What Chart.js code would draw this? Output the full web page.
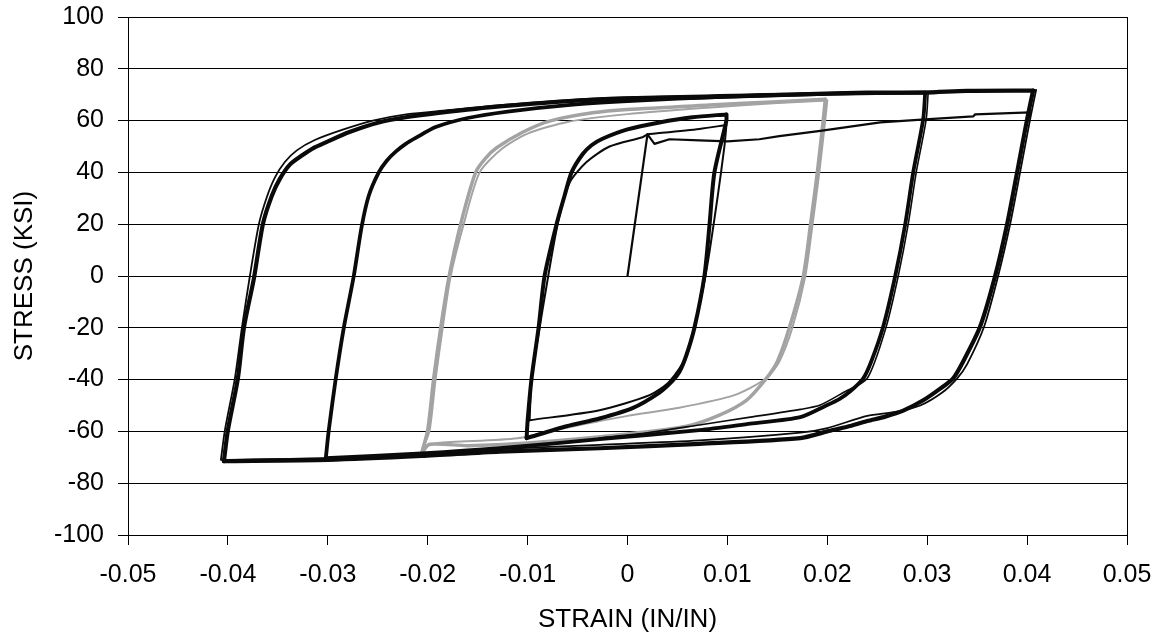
<!DOCTYPE html>
<html>
<head>
<meta charset="utf-8">
<script src="https://cdn.jsdelivr.net/npm/chart.js@4.4.1/dist/chart.umd.min.js"></script>
<style>
  html, body { margin: 0; padding: 0; background: #fff; }
  #wrap { width: 1162px; height: 638px; }
</style>
</head>
<body>
<div id="wrap"><canvas id="c" width="1162" height="638"></canvas></div>
<script>
// ---------- Data (strain in/in, stress ksi) ----------
const xTicks = [-0.05, -0.04, -0.03, -0.02, -0.01, 0, 0.01, 0.02, 0.03, 0.04, 0.05];
const xTickLabels = ['-0.05', '-0.04', '-0.03', '-0.02', '-0.01', '0', '0.01', '0.02', '0.03', '0.04', '0.05'];
const yTicks = [-100, -80, -60, -40, -20, 0, 20, 40, 60, 80, 100];
const yTickLabels = ['-100', '-80', '-60', '-40', '-20', '0', '20', '40', '60', '80', '100'];

// initial monotonic loading
const initStrain = [0, 0.0020, 0.0027, 0.0042, 0.0072, 0.0100, 0.0132, 0.0152, 0.0193, 0.0253, 0.0298, 0.0346, 0.0348, 0.0403, 0.0401];
const initStress = [0, 54.7, 51.0, 52.8, 52.4, 52.0, 52.8, 54.0, 56.0, 59.3, 60.5, 61.6, 62.4, 63.2, 60.0];

// +/-0.04 loop (main cycles)
const loop04Strain = [-0.0404, -0.0400, -0.0390, -0.0384, -0.0374, -0.0365, -0.0356, -0.0348, -0.0338, -0.0326, -0.0314, -0.0302, -0.0279, -0.0249, -0.0222, -0.0189, -0.0128, -0.0028, 0.0072, 0.0173, 0.0240, 0.0298, 0.0340, 0.0406,
  0.0400, 0.0390, 0.0380, 0.0368, 0.0353, 0.0336, 0.0326, 0.0313, 0.0296, 0.0276, 0.0258, 0.0240, 0.0220, 0.0200, 0.0173, 0.0072, -0.0028, -0.0128, -0.0206, -0.0300, -0.0404];
const loop04Stress = [-71.5, -59.5, -39.5, -20.0, -1.0, 20.0, 31.0, 37.5, 43.0, 46.5, 49.5, 51.6, 55.5, 59.3, 61.3, 63.0, 65.5, 68.2, 69.0, 70.1, 70.8, 70.8, 71.5, 71.6,
  60.5, 40.0, 20.0, 0.0, -19.5, -33.0, -39.5, -43.5, -48.0, -52.0, -54.3, -56.0, -58.2, -60.0, -62.6, -64.8, -66.5, -67.8, -69.5, -71.0, -71.5];

// +/-0.04 loop (outer / earlier cycle)
const loop04bStrain = [-0.0407, -0.0403, -0.0393, -0.0386, -0.0378, -0.0369, -0.0361, -0.0353, -0.0343, -0.0331, -0.0313, -0.0285, -0.0255, -0.0220, -0.0180, -0.0128, -0.0028, 0.0173, 0.0298, 0.0409,
  0.0403, 0.0393, 0.0383, 0.0371, 0.0357, 0.0340, 0.0330, 0.0315, 0.0293, 0.0268, 0.0240, 0.0200, 0.0173, 0.0072, -0.0028, -0.0128, -0.0206, -0.0300, -0.0406];
const loop04bStress = [-71.0, -59.5, -39.5, -20.0, 0.0, 20.0, 30.5, 38.0, 44.0, 48.5, 52.5, 56.5, 60.0, 62.5, 64.0, 66.0, 68.6, 70.5, 71.2, 71.8,
  60.5, 40.0, 20.0, 0.0, -19.5, -34.0, -39.5, -45.0, -50.0, -52.5, -54.0, -58.7, -60.5, -63.5, -65.2, -66.8, -68.5, -70.2, -71.0];

// +/-0.03 loop (main)
const loop03Strain = [-0.0302, -0.0299, -0.0292, -0.0284, -0.0274, -0.0266, -0.0259, -0.0249, -0.0241, -0.0232, -0.0222, -0.0212, -0.0192, -0.0160, -0.0120, -0.0060, 0.0000, 0.0100, 0.0200, 0.0298,
  0.0296, 0.0286, 0.0278, 0.0268, 0.0256, 0.0244, 0.0236, 0.0223, 0.0212, 0.0200, 0.0173, 0.0123, 0.0072, -0.0028, -0.0128, -0.0206, -0.0302];
const loop03Stress = [-70.3, -59.5, -39.5, -20.0, 0.0, 19.3, 31.0, 40.0, 44.5, 48.0, 51.0, 53.3, 57.5, 61.0, 63.5, 66.0, 67.5, 69.3, 70.3, 70.8,
  60.5, 40.0, 20.0, 0.0, -19.5, -33.0, -39.5, -44.5, -47.5, -49.8, -54.5, -57.0, -59.5, -63.0, -66.5, -68.5, -70.3];

// +/-0.03 loop (thin cycle, linked from the 0.01 loop)
const loop03bStrain = [0.0301, 0.0299, 0.0289, 0.0281, 0.0271, 0.0259, 0.0240, 0.0216, 0.0193, 0.0173, 0.0123, 0.0072, 0.0020, -0.0028];
const loop03bStress = [71.0, 60.5, 40.0, 20.0, 0.0, -19.5, -39.5, -45.0, -49.8, -51.5, -54.5, -57.5, -60.5, -62.5];

// +/-0.01 loop (main)
const loop01Strain = [-0.0101, -0.0100, -0.0096, -0.0089, -0.0083, -0.0071, -0.0063, -0.0056, -0.0045, -0.0036, -0.0025, 0.0000, 0.0032, 0.0065, 0.0099,
  0.0099, 0.0087, 0.0082, 0.0077, 0.0067, 0.0059, 0.0052, 0.0045, 0.0032, 0.0005, -0.0028, -0.0061, -0.0101];
const loop01Stress = [-62.6, -56.0, -39.5, -20.0, 0.0, 20.0, 31.0, 40.0, 47.0, 50.5, 53.0, 56.6, 59.3, 61.3, 62.4,
  60.0, 40.0, 19.3, 0.0, -20.0, -30.5, -37.0, -40.5, -45.0, -51.0, -55.0, -58.0, -62.6];

// +/-0.01 loop (first cycle, thin)
const loop01bStrain = [0.0020, 0.0072, 0.0099, 0.0097, 0.0090, 0.0078, 0.0060, 0.0042, 0.0022, -0.0028, -0.0098, -0.0096, -0.0088, -0.0070, -0.0058, -0.0041, -0.0018, 0.0015, 0.0020];
const loop01bStress = [54.7, 56.8, 58.3, 50.0, 30.0, 0.0, -30.0, -40.7, -46.0, -51.8, -55.7, -40.0, -20.0, 20.0, 36.0, 44.0, 50.0, 53.6, 54.7];

// +/-0.02 loop (grey, main)
const loop02Strain = [-0.0206, -0.0200, -0.0194, -0.0187, -0.0179, -0.0167, -0.0152, -0.0142, -0.0131, -0.0105, -0.0078, -0.0035, 0.0000, 0.0082, 0.0150, 0.0198,
  0.0196, 0.0190, 0.0183, 0.0176, 0.0162, 0.0150, 0.0139, 0.0119, 0.0092, 0.0059, 0.0000, -0.0100, -0.0160, -0.0198, -0.0206];
const loop02Stress = [-68.3, -59.5, -39.5, -20.0, -1.0, 20.0, 40.0, 45.5, 49.5, 55.5, 59.8, 63.0, 64.3, 66.0, 67.3, 68.2,
  60.5, 40.0, 19.3, 0.0, -20.0, -33.0, -39.5, -48.0, -53.7, -58.0, -61.0, -64.5, -65.5, -65.0, -68.3];

// +/-0.02 loop (grey, second cycle)
const loop02bStrain = [-0.0204, -0.0198, -0.0192, -0.0185, -0.0177, -0.0164, -0.0148, -0.0126, -0.0100, -0.0060, 0.0000, 0.0080, 0.0150, 0.0200,
  0.0198, 0.0192, 0.0185, 0.0178, 0.0165, 0.0152, 0.0139, 0.0107, 0.0050, 0.0000, -0.0060, -0.0110, -0.0190, -0.0204];
const loop02bStress = [-66.0, -59.5, -39.5, -20.0, 0.0, 20.0, 40.0, 49.0, 55.0, 59.5, 62.5, 65.0, 66.8, 67.8,
  60.5, 40.0, 19.3, 0.0, -20.0, -33.0, -39.5, -46.0, -51.0, -54.0, -58.5, -62.6, -64.5, -66.0];

// ---------- Build datasets ----------
function pts(xs, ys) { return xs.map((x, i) => ({ x: x, y: ys[i] })); }
// split a loop path at its strain reversal points so that sharp corners stay sharp
function branches(xs, ys) {
  const p = pts(xs, ys);
  let iMax = 0, iMin = 0;
  xs.forEach((x, i) => { if (x > xs[iMax]) iMax = i; if (x < xs[iMin]) iMin = i; });
  const cuts = [0, iMax, iMin, p.length - 1].filter((v, i, a) => a.indexOf(v) === i).sort((a, b) => a - b);
  const out = [];
  for (let k = 0; k < cuts.length - 1; k++) out.push(p.slice(cuts[k], cuts[k + 1] + 1));
  return out;
}
const BLACK = '#0a0a0a';
const GREY = '#a3a3a3';
const datasets = [];
function add(xs, ys, color, width, tension) {
  const parts = tension > 0 ? branches(xs, ys) : [pts(xs, ys)];
  parts.forEach(part => datasets.push({
    data: part, showLine: true, borderColor: color, backgroundColor: color,
    borderWidth: width, pointRadius: 0, pointHoverRadius: 0, fill: false, tension: tension,
    borderJoinStyle: 'round', borderCapStyle: 'round'
  }));
}
add(initStrain, initStress, BLACK, 2.2, 0);
add(loop01bStrain, loop01bStress, BLACK, 2, 0.25);
add(loop01Strain, loop01Stress, BLACK, 4, 0.25);
add(loop03bStrain, loop03bStress, BLACK, 1.6, 0.25);
add(loop03Strain, loop03Stress, BLACK, 3.8, 0.25);
add(loop04bStrain, loop04bStress, BLACK, 1.8, 0.25);
add(loop04Strain, loop04Stress, BLACK, 4.2, 0.25);
add(loop02bStrain, loop02bStress, GREY, 2, 0.25);
add(loop02Strain, loop02Stress, GREY, 3.5, 0.25);

const FAMILY = "'Liberation Sans', Arial, Helvetica, sans-serif";

new Chart(document.getElementById('c'), {
  type: 'scatter',
  data: { datasets: datasets },
  options: {
    responsive: false,
    animation: false,
    devicePixelRatio: 1,
    events: [],
    layout: { padding: { top: 17, right: 35, left: 0, bottom: 0 } },
    plugins: { legend: { display: false }, tooltip: { enabled: false }, title: { display: false } },
    scales: {
      x: {
        type: 'linear', position: 'bottom', min: -0.05, max: 0.05,
        afterBuildTicks: s => { s.ticks = xTicks.map(v => ({ value: v })); },
        afterFit: s => { s.height = 103; s.paddingLeft = 0; s.paddingRight = 0; },
        ticks: { callback: (v, i) => xTickLabels[i], font: { family: FAMILY, size: 25 }, color: '#000',
                 padding: 15, maxRotation: 0, autoSkip: false },
        grid: { color: c => (c.tick && c.tick.value === 0.05) ? '#000' : 'rgba(0,0,0,0)',
                tickColor: '#000', tickLength: 10, lineWidth: 1, drawTicks: true },
        border: { display: true, color: '#000', width: 1 },
        title: { display: true, text: 'STRAIN (IN/IN)', font: { family: FAMILY, size: 26 }, color: '#000',
                 padding: { top: 0, bottom: 3 } }
      },
      y: {
        type: 'linear', position: 'left', min: -100, max: 100,
        afterBuildTicks: s => { s.ticks = yTicks.map(v => ({ value: v })); },
        afterFit: s => { s.width = 128; s.paddingTop = 0; s.paddingBottom = 0; },
        ticks: { callback: (v, i) => yTickLabels[i], font: { family: FAMILY, size: 25 }, color: '#000',
                 padding: 14, autoSkip: false },
        grid: { color: '#000', tickColor: '#000', tickLength: 10, lineWidth: 1, drawTicks: true },
        border: { display: true, color: '#000', width: 1 },
        title: { display: true, text: 'STRESS (KSI)', font: { family: FAMILY, size: 26 }, color: '#000',
                 padding: { top: 9, bottom: 0 } }
      }
    }
  }
});
</script>
</body>
</html>
